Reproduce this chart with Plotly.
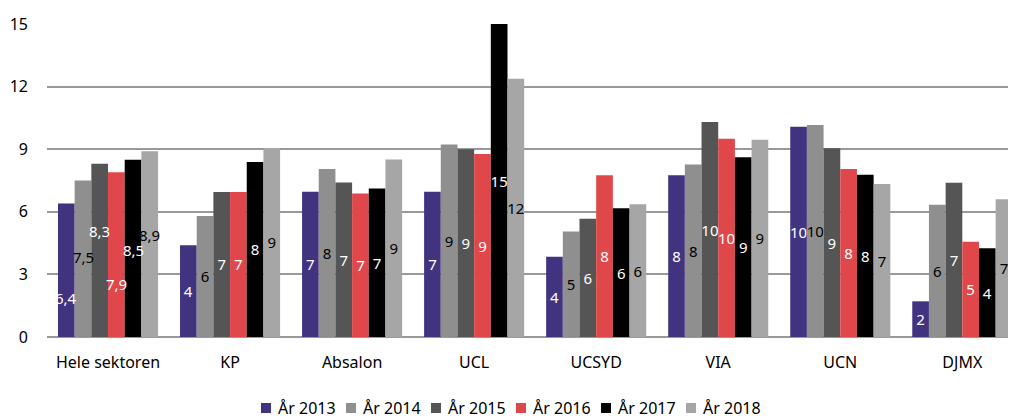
import plotly.graph_objects as go

categories = ["Hele sektoren", "KP", "Absalon", "UCL", "UCSYD", "VIA", "UCN", "DJMX"]
years = ["År 2013", "År 2014", "År 2015", "År 2016", "År 2017", "År 2018"]

v2013 = [6.4, 4.4, 6.96, 6.96, 3.85, 7.75, 10.08, 1.71]
v2014 = [7.5, 5.8, 8.05, 9.23, 5.05, 8.27, 10.16, 6.34]
v2015 = [8.3, 6.95, 7.41, 9.0, 5.67, 10.3, 9.04, 7.39]
v2016 = [7.9, 6.95, 6.88, 8.77, 7.75, 9.5, 8.05, 4.57]
v2017 = [8.5, 8.39, 7.12, 15.0, 6.17, 8.61, 7.78, 4.25]
v2018 = [8.9, 9.06, 8.51, 12.38, 6.36, 9.45, 7.33, 6.6]

series = [v2013, v2014, v2015, v2016, v2017, v2018]
colors = ["#41337F", "#8F8F8F", "#555555", "#E0474B", "#000000", "#A6A6A6"]
text_colors = ["white", "black", "white", "white", "white", "black"]

y_ticks = [0, 3, 6, 9, 12, 15]

# style: staggered label heights (fraction of bar height) for the first group
first_group_label_frac = [0.29, 0.51, 0.61, 0.32, 0.49, 0.55]

FONT = "Noto Sans"
BARGAP = 0.18
n = len(series)

# layout geometry (pixels in figure)
W, H = 1008, 416
ML, MR, MT, MB = 39, 0, 16, 87
PW = W - ML - MR
PH = H - MT - MB

fig = go.Figure()
for i, (name, vals, col, tcol) in enumerate(zip(years, series, colors, text_colors)):
    texts = [""] + [f"{round(v):d}" for v in vals[1:]]
    fig.add_trace(go.Bar(
        name=name,
        x=categories,
        y=vals,
        marker=dict(color=col, line=dict(width=0)),
        text=texts,
        textposition="inside",
        insidetextanchor="middle",
        textangle=0,
        textfont=dict(color=tcol, size=15, family=FONT),
        showlegend=False,
    ))
    v0 = vals[0]
    fig.add_annotation(
        x=(i - (n - 1) / 2) * (1 - BARGAP) / n,
        y=v0 * first_group_label_frac[i],
        xref="x", yref="y",
        text=f"{v0:.1f}".replace(".", ","),
        showarrow=False,
        font=dict(color=tcol, size=15, family=FONT),
    )

# custom legend (compact, like the reference)
leg_x0 = 214      # px from plot left to first swatch
leg_step = 85     # px between entries
leg_y = -(71 / PH)  # paper y of legend centre
for i, (name, col) in enumerate(zip(years, colors)):
    xp = (leg_x0 + i * leg_step) / PW
    fig.add_shape(
        type="rect", xref="paper", yref="paper",
        xsizemode="pixel", ysizemode="pixel",
        xanchor=xp, yanchor=leg_y,
        x0=0, x1=10, y0=-5, y1=5,
        fillcolor=col, line=dict(width=0),
    )
    fig.add_annotation(
        x=xp + 15 / PW, y=leg_y, xref="paper", yref="paper",
        xanchor="left", yanchor="middle",
        text=name, showarrow=False,
        font=dict(size=16, family=FONT, color="black"),
    )

fig.update_layout(
    width=W,
    height=H,
    barmode="group",
    bargap=BARGAP,
    bargroupgap=0,
    plot_bgcolor="white",
    paper_bgcolor="white",
    margin=dict(l=ML, r=MR, t=MT, b=MB),
    font=dict(family=FONT, size=16, color="black"),
    uniformtext=dict(minsize=15, mode="show"),
    showlegend=False,
)

fig.update_xaxes(
    range=[-0.5, 7.44],
    showgrid=False,
    showline=False,
    ticks="",
    tickfont=dict(size=16, family=FONT),
    ticklabelstandoff=14,
)
fig.update_yaxes(
    range=[0, 15],
    tickvals=y_ticks,
    showgrid=True,
    gridcolor="#999999",
    gridwidth=2,
    zeroline=True,
    zerolinecolor="#999999",
    zerolinewidth=2,
    showline=False,
    ticks="",
    tickfont=dict(size=16, family=FONT),
    ticklabelstandoff=18,
)

fig.write_html("out.html")
